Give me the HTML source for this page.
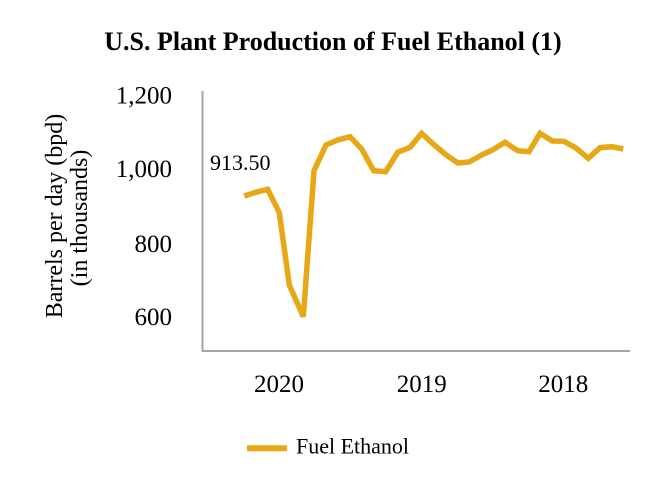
<!DOCTYPE html>
<html>
<head>
<meta charset="utf-8">
<style>
html,body{margin:0;padding:0;background:#fff;}
body{width:660px;height:500px;overflow:hidden;}
svg{display:block;}
text{font-family:"Liberation Serif","Times New Roman",serif;fill:#000;}
</style>
</head>
<body>
<svg width="660" height="500" viewBox="0 0 660 500" xmlns="http://www.w3.org/2000/svg">
  <rect x="0" y="0" width="660" height="500" fill="#fff"/>
  <!-- Title -->
  <text x="333" y="50" text-anchor="middle" font-size="26" font-weight="bold">U.S. Plant Production of Fuel Ethanol (1)</text>

  <!-- Y axis title -->
  <text transform="translate(62,216) rotate(-90)" text-anchor="middle" font-size="24">Barrels per day (bpd)</text>
  <text transform="translate(87,218) rotate(-90)" text-anchor="middle" font-size="24">(in thousands)</text>

  <!-- Y tick labels -->
  <text x="172" y="103.5" text-anchor="end" font-size="25">1,200</text>
  <text x="172" y="177" text-anchor="end" font-size="25">1,000</text>
  <text x="172" y="252" text-anchor="end" font-size="25">800</text>
  <text x="172" y="325" text-anchor="end" font-size="25">600</text>

  <!-- Axes -->
  <line x1="202.5" y1="91" x2="202.5" y2="351.5" stroke="#a6a6a6" stroke-width="2"/>
  <line x1="201.5" y1="351" x2="630" y2="351" stroke="#a6a6a6" stroke-width="2"/>

  <!-- X tick labels -->
  <text x="279" y="392" text-anchor="middle" font-size="25">2020</text>
  <text x="421.7" y="392" text-anchor="middle" font-size="25">2019</text>
  <text x="563.3" y="392" text-anchor="middle" font-size="25">2018</text>

  <!-- Data label -->
  <text x="210" y="170" font-size="22">913.50</text>

  <!-- Series -->
  <polyline fill="none" stroke="#e6a817" stroke-width="5.5" stroke-linejoin="miter" stroke-linecap="butt"
    points="244.3,196 255.7,192.3 267.7,189.3 279.3,212.7 289.3,285 303.3,316.7 314,170.7 326,145 337.7,140 350,136.7 361.7,149 373.7,170.7 385.7,171.7 397.7,152.3 410,147.3 421.7,133.3 434.3,145 446.3,155 458,163 469.3,162 481.7,155 493,149.7 505,142.3 517.7,150.7 529,151.7 540,133.3 552.3,141 564,141.3 576,148 588.3,158.3 600,147.7 611.7,146.7 623.3,149"/>

  <!-- Legend -->
  <line x1="247" y1="448.3" x2="287" y2="448.3" stroke="#e6a817" stroke-width="6"/>
  <text x="296" y="453.5" font-size="22">Fuel Ethanol</text>
</svg>
</body>
</html>
